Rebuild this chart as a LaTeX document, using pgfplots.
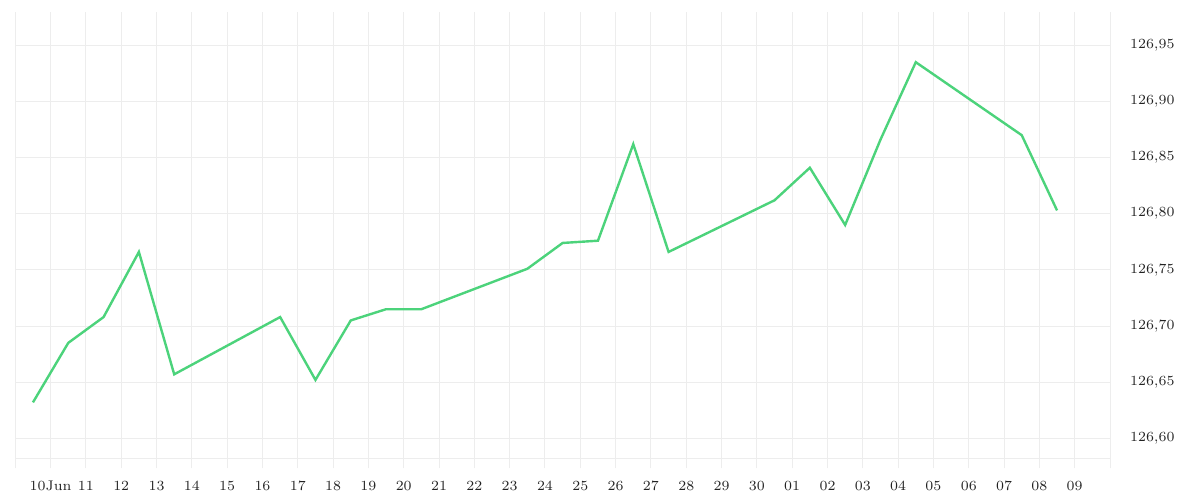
\documentclass[border=0pt]{standalone}
\usepackage{pgfplots}
\pgfplotsset{compat=1.18}
\definecolor{gridc}{HTML}{EDEDED}
\definecolor{linec}{HTML}{4CD37B}
\definecolor{txtc}{HTML}{222222}
\begin{document}
\begin{tikzpicture}
\useasboundingbox (0,0) rectangle (600pt,250pt);
\begin{axis}[
  at={(7.65pt,20.85pt)}, anchor=south west,
  scale only axis, width=547.35pt, height=223.15pt,
  xmin=-1, xmax=30, ymin=126.5822, ymax=126.9797,
  axis x line*=bottom, axis y line*=right,
  x axis line style={gridc, line width=0.5pt, -},
  y axis line style={draw=none},
  xtick={-1,0,...,30},
  xticklabels={,10Jun,11,12,13,14,15,16,17,18,19,20,21,22,23,24,25,26,27,28,29,30,01,02,03,04,05,06,07,08,09,},
  ytick={126.60,126.65,126.70,126.75,126.80,126.85,126.90,126.95},
  scaled y ticks=false,
  grid=major, grid style={gridc, line width=0.5pt},
  tick align=outside, major tick length=5pt,
  xtick style={gridc, line width=0.5pt},
  ytick style={draw=none},
  tick label style={font=\fontsize{7}{8}\selectfont, text=txtc},
  xticklabel style={yshift=-2.9pt},
  yticklabel style={xshift=1.5pt, /pgf/number format/.cd, fixed, fixed zerofill, precision=2, use comma},
]
\addplot[linec, line width=1.2pt, no markers] coordinates {
  (-0.5,126.632) (0.5,126.685) (1.5,126.708) (2.5,126.766) (3.5,126.657)
  (6.5,126.708) (7.5,126.652) (8.5,126.705) (9.5,126.715) (10.5,126.715)
  (13.5,126.751) (14.5,126.774) (15.5,126.776) (16.5,126.862) (17.5,126.766)
  (20.5,126.812) (21.5,126.841) (22.5,126.790) (23.5,126.866) (24.5,126.935)
  (27.5,126.870) (28.5,126.803)
};
\end{axis}
\end{tikzpicture}
\end{document}
